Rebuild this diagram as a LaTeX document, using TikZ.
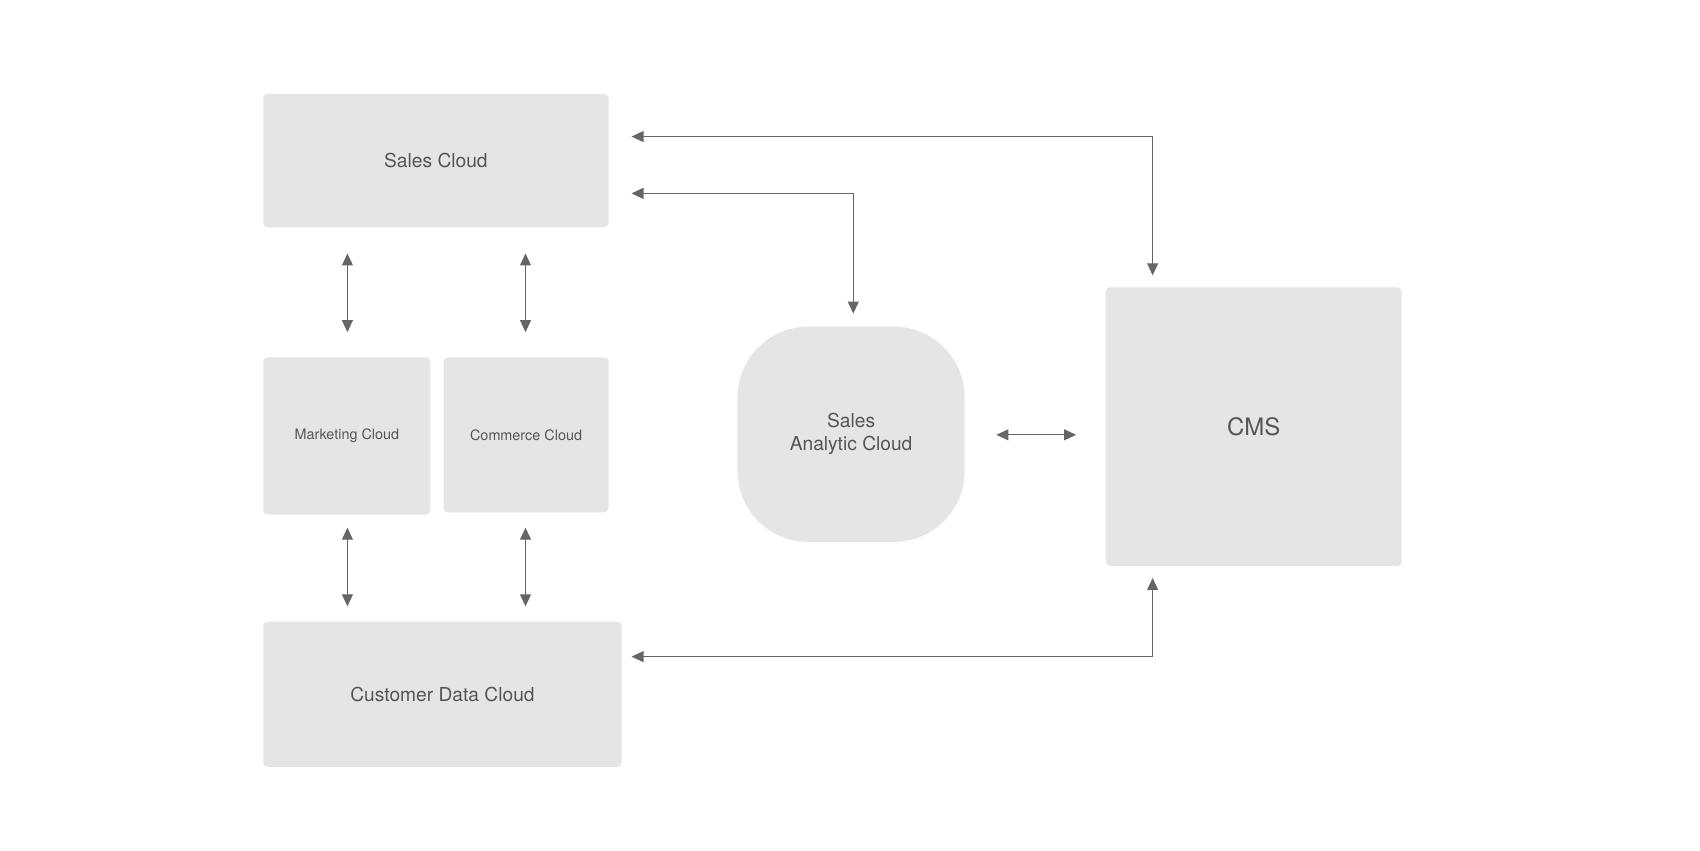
\documentclass[tikz,border=0pt]{standalone}
\usepackage{fontspec}
\setmainfont{TeX Gyre Heros}
\usetikzlibrary{arrows.meta}
\definecolor{boxgray}{HTML}{E5E5E5}
\definecolor{linegray}{HTML}{666666}
\definecolor{textgray}{HTML}{555555}
\tikzset{
    cloudbox/.style = {
        rectangle,
        rounded corners=0.8mm,
        fill=boxgray,
        draw=none,
        text=textgray,
        align=center,
        inner sep=0pt
    },
    link/.style = {
        draw=linegray,
        line width=0.6pt,
        {Triangle[length=2.2mm,width=2mm]}-{Triangle[length=2.2mm,width=2mm]}
    }
}
\begin{document}
\begin{tikzpicture}[x=0.02cm,y=-0.02cm]
            \useasboundingbox (0,0) rectangle (1556,778);
            % boxes
            \node [cloudbox, minimum width=316*0.02cm, minimum height=122*0.02cm, font=\fontsize{10}{12}\selectfont] (sales) at (399,147) {Sales Cloud};
            \node [cloudbox, minimum width=153*0.02cm, minimum height=144*0.02cm, font=\fontsize{7.5}{9}\selectfont] (marketing) at (317.5,399) {Marketing Cloud};
            \node [cloudbox, minimum width=151*0.02cm, minimum height=142*0.02cm, font=\fontsize{7.5}{9}\selectfont] (commerce) at (481.5,398) {Commerce Cloud};
            \node [cloudbox, minimum width=328*0.02cm, minimum height=133*0.02cm, font=\fontsize{10}{12}\selectfont] (customer) at (405,635.5) {Customer Data Cloud};
            \node [cloudbox, rounded corners=1.3cm, minimum width=208*0.02cm, minimum height=197*0.02cm, font=\fontsize{10}{12}\selectfont] (analytic) at (779,397.5) {Sales\\Analytic Cloud};
            \node [cloudbox, minimum width=271*0.02cm, minimum height=255*0.02cm, font=\fontsize{12.5}{15}\selectfont] (cms) at (1147.5,390.5) {CMS};
            % free ends
            \coordinate (salesA) at (578,125);
            \coordinate (salesB) at (578,177);
            \coordinate (cmsTop) at (1055,252);
            \coordinate (analyticTop) at (781,287);
            \coordinate (customerR) at (578,601);
            \coordinate (cmsBot) at (1055,529);
            \coordinate (analyticR) at (912,398);
            \coordinate (cmsL) at (985,398);
            \foreach \name/\x in {m/318, c/481} {
                \coordinate (\name1) at (\x,232);
                \coordinate (\name2) at (\x,304);
                \coordinate (\name3) at (\x,483);
                \coordinate (\name4) at (\x,555);
            }
            % connectors
            \draw [link] (salesA) -| (cmsTop);
            \draw [link] (salesB) -| (analyticTop);
            \draw [link] (customerR) -| (cmsBot);
            \draw [link] (analyticR) -- (cmsL);
            \foreach \name in {m, c} {
                \draw [link] (\name1) -- (\name2);
                \draw [link] (\name3) -- (\name4);
            }
\end{tikzpicture}
\end{document}
